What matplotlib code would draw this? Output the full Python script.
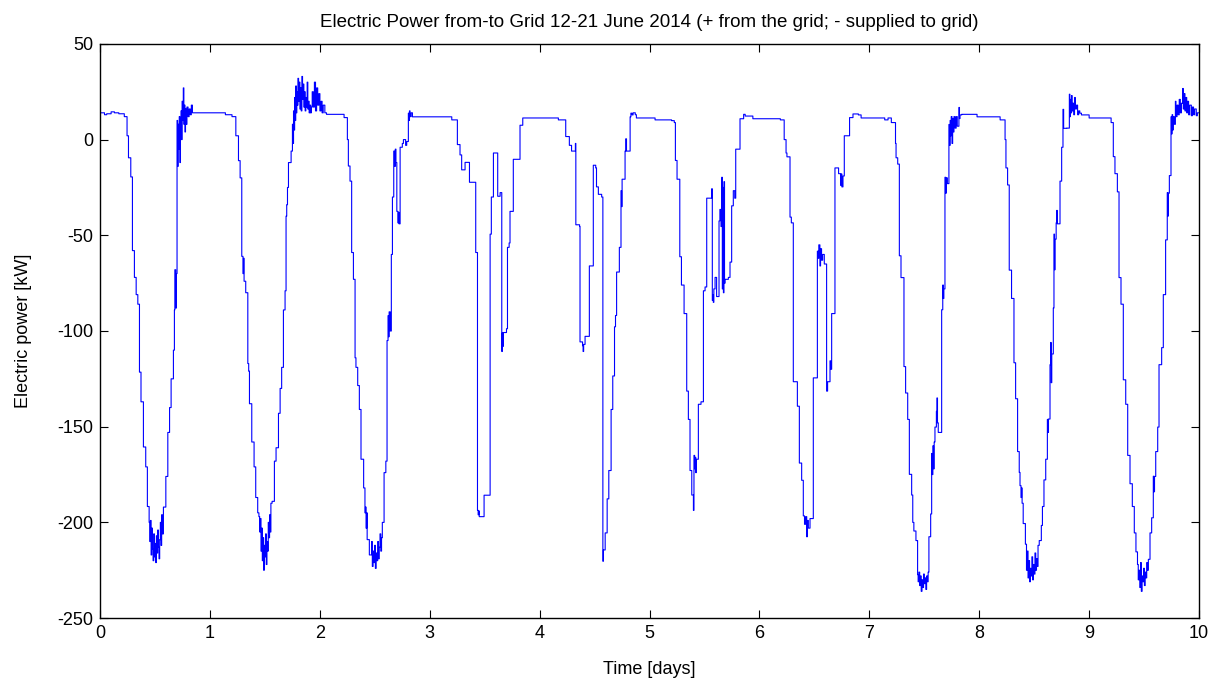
import numpy as np
import matplotlib.pyplot as plt

# (time [days], power [kW]), one list per daily cycle
day0 = [(0.00, 14), (0.04, 13), (0.06, 13.5), (0.10, 14.5), (0.13, 14), (0.17, 13.5),
        (0.22, 12), (0.245, 2), (0.258, -9.5), (0.279, -19.5), (0.294, -58), (0.312, -72),
        (0.328, -81), (0.343, -86), (0.358, -121.5), (0.372, -137), (0.394, -160.6),
        (0.415, -171), (0.43, -191.7), (0.446, -200),
        (0.452, -210), (0.458, -199), (0.464, -217), (0.470, -203), (0.476, -214),
        (0.482, -220), (0.488, -206), (0.494, -218), (0.500, -211), (0.506, -221),
        (0.512, -207), (0.518, -216), (0.524, -204), (0.530, -213), (0.536, -219),
        (0.542, -209), (0.548, -200), (0.554, -212), (0.560, -196), (0.566, -206),
        (0.576, -192), (0.598, -176), (0.616, -153), (0.632, -140), (0.646, -125),
        (0.667, -110), (0.676, -89), (0.68, -68), (0.688, -88), (0.694, -70),
        (0.70, 10), (0.705, -14), (0.71, 8), (0.716, -5), (0.72, 12), (0.726, -12),
        (0.731, 6), (0.736, 15), (0.741, 0), (0.746, 20), (0.751, 10), (0.757, 27),
        (0.762, 8), (0.767, 18), (0.772, 4), (0.777, 16), (0.783, 8), (0.79, 17),
        (0.80, 12), (0.81, 16), (0.82, 13), (0.83, 18), (0.84, 14)]

day1 = [(1.14, 13), (1.20, 12), (1.235, 2), (1.259, -11), (1.274, -20), (1.289, -61),
        (1.30, -70), (1.305, -62), (1.31, -74), (1.325, -80), (1.344, -117), (1.352, -121),
        (1.359, -138), (1.38, -158), (1.401, -171), (1.416, -187), (1.434, -195), (1.445, -197),
        (1.452, -205), (1.458, -198), (1.464, -215), (1.470, -203), (1.476, -220),
        (1.482, -208), (1.488, -225), (1.494, -212), (1.500, -218), (1.506, -206),
        (1.512, -222), (1.518, -210), (1.524, -215), (1.530, -200), (1.536, -208),
        (1.542, -196), (1.548, -205), (1.554, -190),
        (1.565, -189), (1.586, -168), (1.601, -161), (1.623, -143), (1.638, -130),
        (1.652, -119), (1.668, -89), (1.683, -79), (1.692, -40), (1.698, -34), (1.705, -25),
        (1.714, -12), (1.738, -6), (1.75, 8), (1.755, -2), (1.76, 15), (1.765, 5),
        (1.77, 22), (1.775, 10), (1.78, 28), (1.786, 14), (1.79, 25), (1.796, 18),
        (1.80, 32), (1.806, 20), (1.812, 30), (1.818, 16), (1.824, 27), (1.83, 15),
        (1.836, 33), (1.842, 21), (1.848, 29), (1.854, 17), (1.86, 25), (1.866, 15),
        (1.872, 22), (1.878, 17), (1.884, 30), (1.89, 16), (1.896, 20), (1.902, 14),
        (1.91, 18), (1.916, 14), (1.922, 17), (1.93, 25), (1.94, 17), (1.95, 30),
        (1.96, 15), (1.97, 27), (1.98, 18), (1.99, 24), (2.0, 15), (2.01, 20),
        (2.02, 14), (2.03, 18), (2.045, 14)]

day2 = [(2.06, 13.2), (2.22, 11.5), (2.25, 0), (2.259, -13.8), (2.274, -21.7),
        (2.289, -59), (2.305, -73), (2.32, -114), (2.328, -119), (2.344, -128.5),
        (2.359, -141), (2.374, -167), (2.398, -182), (2.41, -195), (2.415, -192),
        (2.42, -203), (2.426, -195), (2.43, -209), (2.45, -217),
        (2.470, -210), (2.477, -223), (2.484, -215), (2.491, -221), (2.498, -212),
        (2.505, -224), (2.512, -216), (2.519, -220), (2.526, -210), (2.533, -219),
        (2.540, -213), (2.547, -206), (2.554, -215), (2.561, -208), (2.568, -200),
        (2.584, -174), (2.60, -168), (2.611, -105), (2.62, -92), (2.625, -103),
        (2.63, -90), (2.64, -100), (2.65, -60), (2.66, -30), (2.672, -6), (2.68, -14),
        (2.686, -5), (2.692, -12), (2.70, -37.5), (2.71, -43.5), (2.715, -38),
        (2.72, -44), (2.73, -4), (2.75, -2), (2.76, 0), (2.78, -3), (2.79, -1),
        (2.805, 13.8), (2.81, 10), (2.815, 15), (2.82, 12), (2.83, 14), (2.842, 11.9)]

day3 = [(3.20, 10.3), (3.251, -2.6), (3.275, -8), (3.29, -15.8), (3.321, -11.9),
        (3.361, -22.3), (3.418, -59), (3.434, -193.7), (3.44, -196), (3.445, -194),
        (3.45, -197), (3.494, -185.8), (3.549, -49.4), (3.56, -30), (3.579, -7),
        (3.618, -29.6), (3.64, -27.7), (3.655, -110.7), (3.66, -101), (3.665, -108),
        (3.67, -100.8), (3.698, -98.8), (3.707, -56.3), (3.722, -54), (3.73, -37.5),
        (3.76, -10.3), (3.821, 7.5), (3.846, 11.3)]

day4 = [(4.17, 10.3), (4.237, 1.6), (4.27, -3), (4.29, -6), (4.325, -2), (4.329, -44.5),
        (4.363, -45.4), (4.367, -105.7), (4.39, -107.7), (4.395, -110.7), (4.40, -107),
        (4.413, -102.8), (4.452, -66), (4.488, -13.4), (4.51, -14.8), (4.517, -24.7),
        (4.534, -28.6), (4.564, -30), (4.575, -220.3), (4.58, -214.4), (4.596, -205.5),
        (4.614, -187.7), (4.629, -172.9), (4.65, -141), (4.665, -123.5), (4.681, -97.8),
        (4.69, -91.9), (4.70, -69.2), (4.725, -56.3), (4.74, -26.7), (4.745, -35),
        (4.75, -20.7), (4.777, -6), (4.783, 0.4), (4.79, -6), (4.823, 11.9), (4.83, 13.8),
        (4.84, 12.9), (4.85, 14), (4.87, 13), (4.88, 11.3), (5.05, 10.3)]

day5 = [(5.20, 9.9), (5.225, 8.9), (5.235, -10.9), (5.25, -20.7), (5.275, -61.2),
        (5.29, -76), (5.314, -90.9), (5.338, -131.4), (5.353, -146.2), (5.368, -172.9),
        (5.384, -185.7), (5.399, -193.7), (5.404, -165), (5.41, -172), (5.415, -166),
        (5.42, -174), (5.425, -167), (5.444, -138.3), (5.468, -137), (5.49, -79),
        (5.505, -77), (5.52, -30.6), (5.548, -30.6), (5.565, -25.7), (5.571, -84),
        (5.575, -81), (5.58, -85), (5.585, -78), (5.596, -72), (5.61, -82),
        (5.632, -42.5), (5.64, -36.5), (5.65, -45.4), (5.657, -19.7), (5.662, -78),
        (5.667, -25), (5.672, -80), (5.677, -22), (5.682, -75), (5.687, -73),
        (5.717, -72), (5.732, -64), (5.747, -34.6), (5.762, -26.7), (5.775, -30.6),
        (5.784, -5), (5.823, 10.9), (5.856, 13.2), (5.87, 12.3), (5.94, 10.9)]

day6 = [(6.19, 10.3), (6.225, 0), (6.242, -7), (6.25, -9), (6.278, -40.5), (6.29, -43.5),
        (6.308, -126.5), (6.345, -139.3), (6.363, -169), (6.384, -178), (6.399, -196.6),
        (6.41, -201), (6.42, -197), (6.43, -207.5), (6.435, -199), (6.445, -203),
        (6.46, -198), (6.49, -124.5), (6.527, -58.3), (6.535, -62), (6.54, -55),
        (6.55, -66), (6.556, -57), (6.565, -63), (6.575, -60), (6.59, -65),
        (6.611, -131.4), (6.62, -126.5), (6.642, -115.6), (6.648, -120), (6.657, -90.9),
        (6.687, -14.8), (6.72, -17.8), (6.74, -24), (6.745, -18), (6.75, -24.7),
        (6.76, -19), (6.772, 2), (6.82, 11.5), (6.851, 13.4), (6.90, 12.9),
        (6.925, 11.3), (7.14, 10.3), (7.17, 11.3)]

day7 = [(7.20, 8.9), (7.238, -2), (7.243, -9.5), (7.258, -12.8), (7.273, -60.7),
        (7.288, -72.1), (7.315, -118.6), (7.33, -132.4), (7.349, -146.2), (7.364, -174.9),
        (7.385, -185.7), (7.395, -200), (7.405, -204.5), (7.424, -209.5), (7.439, -227.3),
        (7.444, -231), (7.451, -226), (7.458, -233), (7.465, -228), (7.472, -236),
        (7.479, -230), (7.486, -234), (7.493, -227), (7.500, -232), (7.507, -229),
        (7.514, -235), (7.521, -228), (7.528, -231), (7.535, -226),
        (7.542, -207.5), (7.558, -195.6), (7.567, -164), (7.572, -175), (7.578, -160),
        (7.584, -172), (7.59, -158), (7.597, -150.2), (7.61, -142), (7.615, -135),
        (7.62, -148), (7.627, -153), (7.658, -88.9), (7.668, -76), (7.673, -83),
        (7.678, -78), (7.688, -19.7), (7.695, -28), (7.70, -20), (7.71, -23),
        (7.724, 7.9), (7.73, -3), (7.735, 10), (7.74, 2), (7.745, 12), (7.752, -2),
        (7.758, 11), (7.765, 4), (7.77, 12), (7.78, 6), (7.79, 12), (7.80, 7),
        (7.815, 16.8), (7.82, 11), (7.825, 12.9), (7.84, 13.2), (7.98, 11.9)]

day8 = [(8.19, 10.3), (8.235, 0), (8.243, -14.8), (8.258, -23.7), (8.273, -68.2),
        (8.294, -83), (8.316, -116.6), (8.331, -135.4), (8.349, -163), (8.364, -173.9),
        (8.371, -180.8), (8.38, -187), (8.385, -182), (8.39, -190), (8.40, -200.6),
        (8.42, -211.4),
        (8.430, -225), (8.437, -215), (8.444, -229), (8.451, -220), (8.458, -231),
        (8.465, -224), (8.472, -228), (8.479, -218), (8.486, -230), (8.493, -222),
        (8.500, -227), (8.507, -216), (8.514, -225), (8.521, -219), (8.528, -223),
        (8.535, -212),
        (8.546, -209.5), (8.565, -201.6), (8.575, -191.7), (8.589, -177.8), (8.605, -167),
        (8.62, -146.2), (8.625, -153), (8.63, -146), (8.644, -117.6), (8.65, -106),
        (8.655, -127), (8.66, -112), (8.674, -88), (8.68, -49.4), (8.685, -68),
        (8.69, -52), (8.70, -43.5), (8.705, -37), (8.71, -44), (8.735, -21.7),
        (8.75, -4), (8.762, 15.8), (8.768, 5.9), (8.796, 6), (8.82, 23.7), (8.825, 12),
        (8.83, 21), (8.835, 14), (8.84, 23), (8.845, 15), (8.852, 19), (8.86, 13),
        (8.867, 22), (8.875, 16), (8.885, 18), (8.895, 13), (8.905, 15), (8.915, 13.8),
        (8.93, 12.9), (9.0, 11.3)]

day9 = [(9.20, 8.9), (9.22, -8.9), (9.235, -17.8), (9.257, -27.3), (9.272, -72.1),
        (9.29, -86), (9.311, -125.5), (9.333, -138.3), (9.351, -165), (9.372, -179.8),
        (9.393, -191.7), (9.411, -205.5), (9.426, -215.4),
        (9.440, -222), (9.447, -230), (9.454, -225), (9.461, -234), (9.468, -221),
        (9.475, -236), (9.482, -228), (9.489, -231), (9.496, -224), (9.503, -233),
        (9.510, -226), (9.517, -229), (9.524, -221), (9.531, -225),
        (9.539, -219.3), (9.554, -205.5), (9.569, -197.6), (9.584, -175.9), (9.59, -184),
        (9.595, -176), (9.606, -163), (9.624, -150.2), (9.636, -117.6), (9.66, -108.7),
        (9.675, -81), (9.696, -52.4), (9.711, -27.7), (9.716, -40), (9.72, -28),
        (9.73, -18.8), (9.745, 11.9), (9.75, 3), (9.755, 13), (9.76, 5), (9.765, 12),
        (9.775, 8), (9.785, 20), (9.79, 12), (9.80, 18), (9.81, 13), (9.82, 21),
        (9.83, 14), (9.84, 19), (9.851, 26.7), (9.857, 16), (9.865, 24), (9.872, 15),
        (9.88, 22), (9.888, 14), (9.895, 20), (9.905, 13), (9.915, 18), (9.93, 12.5),
        (9.94, 17), (9.95, 13), (9.96, 16), (9.975, 12.5), (9.985, 14), (10.0, 14)]

days = [day0, day1, day2, day3, day4, day5, day6, day7, day8, day9]
data = np.array([pt for d in days for pt in d])
t, p = data[:, 0], data[:, 1]

plt.rcParams['font.family'] = ['Liberation Sans', 'DejaVu Sans']
plt.rcParams['axes.unicode_minus'] = False
fig = plt.figure(figsize=(12.21, 6.86), dpi=100)
ax = fig.add_axes([0.082, 0.099, 0.9, 0.837])
ax.plot(t, p, color='blue', linewidth=0.8, drawstyle='steps-post')

ax.set_xlim(0, 10)
ax.set_ylim(-250, 50)
ax.set_xticks(np.arange(0, 11, 1))
ax.set_yticks(np.arange(-250, 51, 50))
ax.tick_params(direction='in', top=True, right=True, length=6, width=0.8,
               labelsize=13, pad=5)
for s in ax.spines.values():
    s.set_linewidth(1.0)

ax.set_title('Electric Power from-to Grid 12-21 June 2014 (+ from the grid; - supplied to grid)',
             fontsize=13.5, pad=12)
ax.set_xlabel('Time [days]', fontsize=13, labelpad=14)
ax.set_ylabel('Electric power [kW]', fontsize=13, labelpad=18)

fig.savefig('out.png', dpi=100)
